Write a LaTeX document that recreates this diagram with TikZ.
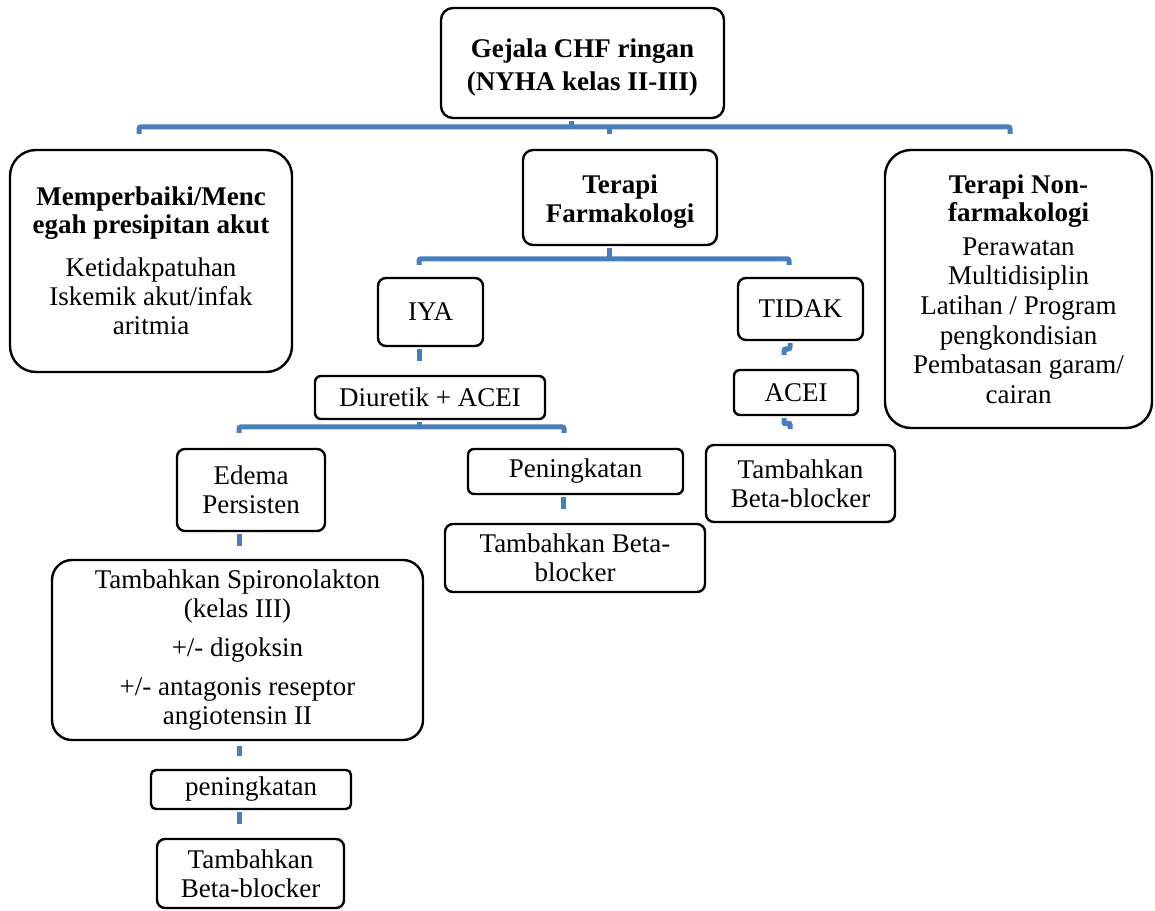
\documentclass[tikz,border=0pt]{standalone}
\usepackage{fontspec}
\setmainfont{Liberation Serif}
\definecolor{connblue}{RGB}{74,126,187}
\tikzset{
  box/.style={draw=black, line width=2.4pt, align=center, inner sep=0pt,
    font=\fontsize{27}{29}\selectfont},
  conn/.style={draw=connblue, line width=5pt},
}
\begin{document}
\begin{tikzpicture}[x=1pt,y=-1pt]
\fill[white] (0,0) rectangle (1155,910);
\useasboundingbox (0,0) rectangle (1155,910);

% nodes
\node[box, rounded corners=12pt, minimum width=283pt, minimum height=110pt] (top) at (582.5,63)
  {\rule{0pt}{27pt}\textbf{Gejala CHF ringan}\\[4pt]\textbf{(NYHA kelas II-III)}};
\node[box, rounded corners=26pt, minimum width=282pt, minimum height=222pt] (left) at (151,261)
  {\textbf{Memperbaiki/Menc}\\[-1pt]\textbf{egah presipitan akut}\\[14pt]Ketidakpatuhan\\Iskemik akut/infak\\aritmia};
\node[box, rounded corners=10pt, minimum width=194pt, minimum height=95pt] (terapi) at (620,197.5)
  {\rule{0pt}{27pt}\textbf{Terapi}\\\textbf{Farmakologi}};
\node[box, rounded corners=26pt, minimum width=267pt, minimum height=278pt,
  font=\fontsize{27}{29.6}\selectfont] (right) at (1018.5,289)
  {\textbf{Terapi Non-}\\[-1.6pt]\textbf{farmakologi}\\[4.5pt]Perawatan\\Multidisiplin\\Latihan / Program\\pengkondisian\\Pembatasan garam/\\cairan};
\node[box, rounded corners=8pt, minimum width=105pt, minimum height=68pt] (iya) at (430.5,312) {IYA};
\node[box, rounded corners=8pt, minimum width=125pt, minimum height=62pt] (tidak) at (800.5,309) {TIDAK};
\node[box, rounded corners=6pt, minimum width=230pt, minimum height=43pt] (diur) at (430,397.5) {Diuretik + ACEI};
\node[box, rounded corners=6pt, minimum width=124pt, minimum height=45pt] (acei) at (796,392.5) {ACEI};
\node[box, rounded corners=8pt, minimum width=189pt, minimum height=77pt] (tambR) at (800.5,483.5) {Tambahkan\\Beta-blocker};
\node[box, rounded corners=8pt, minimum width=148pt, minimum height=82pt] (edema) at (251,490) {Edema\\Persisten};
\node[box, rounded corners=6pt, minimum width=215pt, minimum height=45pt] (pen) at (575.5,471.5) {Peningkatan};
\node[box, rounded corners=8pt, minimum width=260pt, minimum height=68pt] (tambM) at (575,558) {Tambahkan Beta-\\blocker};
\node[box, rounded corners=20pt, minimum width=371pt, minimum height=180pt] (big) at (237.5,650)
  {Tambahkan Spironolakton\\(kelas III)\\[10pt]+/- digoksin\\[10pt]+/- antagonis reseptor\\angiotensin II};
\node[box, rounded corners=5pt, minimum width=200pt, minimum height=39pt] (pensm) at (251,789.5) {peningkatan};
\node[box, rounded corners=8pt, minimum width=187pt, minimum height=69pt] (tambB) at (250.5,873.5) {Tambahkan\\Beta-blocker};

% connectors
\draw[conn] ([xshift=-11.5pt,yshift=-2pt]top.south) -- ++(0,8);
\draw[conn, rounded corners=2pt] ([xshift=-12pt,yshift=15pt]left.north) -- ++(0,-7)
  -- ([xshift=-8.5pt,yshift=22pt]right.north) -- ++(0,7);
\draw[conn] ([xshift=-11pt,yshift=22pt]terapi.north) -- ++(0,7);

\draw[conn] ([xshift=-11pt,yshift=-2pt]terapi.south) -- ++(0,13);
\draw[conn, rounded corners=2pt] ([xshift=-11.5pt,yshift=12pt]iya.north) -- ++(0,-6)
  -- ([xshift=-11.5pt,yshift=18pt]tidak.north) -- ++(0,6);

\draw[conn] ([xshift=-11.5pt,yshift=-2pt]iya.south) -- ([xshift=-11pt,yshift=14pt]diur.north);
\draw[conn, rounded corners=2pt] ([xshift=-10.5pt,yshift=-2pt]tidak.south) -- ++(0,6)
  -- ([xshift=-12pt,yshift=20pt]acei.north) -- ++(0,6);
\draw[conn, rounded corners=2pt] ([xshift=-12pt,yshift=-2pt]acei.south) -- ++(0,6)
  -- ([xshift=-10.5pt,yshift=21pt]tambR.north) -- ++(0,6);

\draw[conn] ([xshift=-11pt,yshift=-2pt]diur.south) -- ++(0,7);
\draw[conn, rounded corners=2pt] ([xshift=-12pt,yshift=15pt]edema.north) -- ++(0,-6)
  -- ([xshift=-11.5pt,yshift=21pt]pen.north) -- ++(0,6);

\draw[conn] ([xshift=-12.5pt,yshift=-2pt]pen.south) -- ([xshift=-12pt,yshift=14pt]tambM.north);
\draw[conn] ([xshift=-12pt,yshift=-2pt]edema.south) -- ([xshift=1.5pt,yshift=13pt]big.north);
\draw[conn] ([xshift=1.5pt,yshift=-5pt]big.south) -- ([xshift=-12pt,yshift=13pt]pensm.north);
\draw[conn] ([xshift=-12pt,yshift=-2pt]pensm.south) -- ([xshift=-11.5pt,yshift=14pt]tambB.north);
\end{tikzpicture}
\end{document}
